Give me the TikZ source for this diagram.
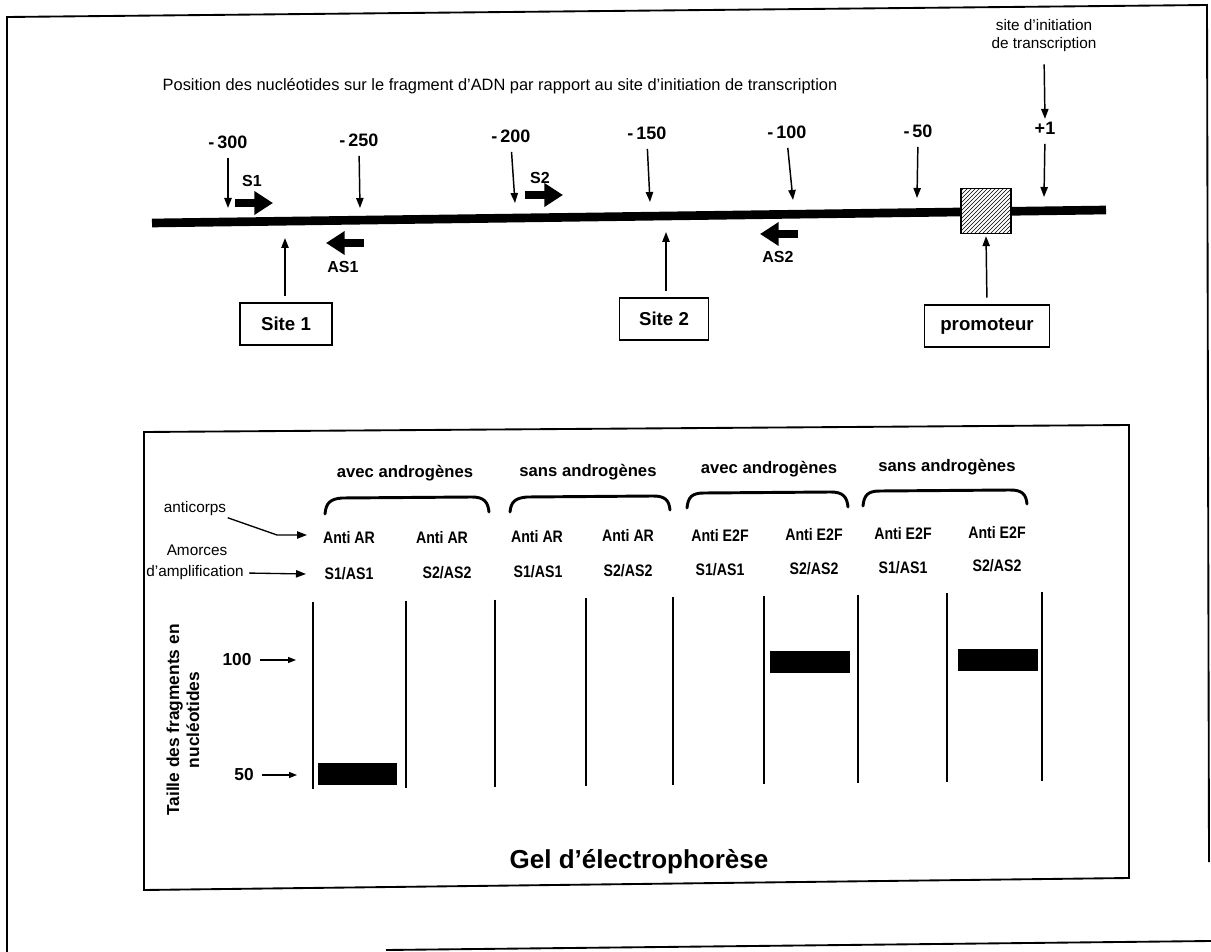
\documentclass[tikz,border=0pt]{standalone}
\usepackage{fontspec}
\setmainfont{Liberation Sans}
\newfontfamily\narrowfont{Liberation Sans}[FakeStretch=0.85]
\usetikzlibrary{arrows.meta,patterns}
\begin{document}
\begin{tikzpicture}[x=0.75pt,y=-0.75pt,
 frame/.style={line width=1.4pt},
 dna/.style={line width=6.5pt},
 thinarrow/.style={line width=1.1pt,-{Triangle[length=7.5pt,width=5.5pt]}},
 smallarrow/.style={line width=1pt,-{Triangle[length=6pt,width=4.5pt]}},
 primer/.style={line width=6pt,-{Triangle[length=14pt,width=17pt]}},
 num/.style={font=\fontsize{13.5}{15}\selectfont\bfseries,inner sep=1pt},
 plab/.style={font=\fontsize{12}{14}\selectfont\bfseries,inner sep=1pt},
 sitebox/.style={draw,line width=1pt,font=\fontsize{14}{16}\selectfont\bfseries,minimum height=31.5pt,inner sep=2pt},
 small/.style={font=\fontsize{11}{14}\selectfont,inner sep=1pt},
 grp/.style={font=\fontsize{12.5}{15}\selectfont\bfseries,inner sep=1pt},
 col/.style={font=\fontsize{12.5}{15}\selectfont\narrowfont\bfseries,inner sep=1pt},
 lane/.style={line width=1.4pt},
 band/.style={fill=black,draw=none,inner sep=0pt,minimum height=16.5pt},
 brace/.style={line width=2.2pt,line cap=round},
]
\useasboundingbox (0,0) rectangle (1211,952);

% outer frame
\draw[frame] (7,952) -- (7,17) -- (1207,5) -- (1209,862);
\draw[frame] (386,950) -- (1211,941);

% ---------- DNA map ----------
\node[small,font=\fontsize{12.3}{14}\selectfont] (pos) at (500,86) {Position des nucléotides sur le fragment d'ADN par rapport au site d'initiation de transcription};
\node[small,align=center,font=\fontsize{11.5}{13.5}\selectfont] (tss) at (1044,36) {site d'initiation\\de transcription};

\coordinate (dnaL) at (152,223);
\coordinate (dnaR) at (1106,210);
\draw[dna] (dnaL) -- (dnaR);
\node[draw,line width=1pt,minimum width=37.5pt,minimum height=33.75pt,preaction={fill=white},pattern=north east lines] (prom) at (986,211) {};

\node[num] (n300) at (228,142) {-\,300};
\node[num] (n250) at (359,140) {-\,250};
\node[num] (n200) at (511,136) {-\,200};
\node[num] (n150) at (647,133) {-\,150};
\node[num] (n100) at (787,132) {-\,100};
\node[num] (n50)  at (918,131) {-\,50};
\node[num] (n1)   at (1045,128) {+1};

\coordinate (p300) at (228,208);
\coordinate (p250) at (360,208);
\coordinate (p200) at (515,203);
\coordinate (p150) at (650,202);
\coordinate (p100) at (793,200);
\coordinate (p50)  at (917,198);
\coordinate (p1)   at (1044,197);
\draw[thinarrow,shorten <=6pt] (n300.south) -- (p300);
\draw[thinarrow,shorten <=6pt] (n250.south) -- (p250);
\draw[thinarrow,shorten <=6pt] (n200.south) -- (p200);
\draw[thinarrow,shorten <=6pt] (n150.south) -- (p150);
\draw[thinarrow,shorten <=6pt] (n100.south) -- (p100);
\draw[thinarrow,shorten <=6pt] (n50.south) -- (p50);
\draw[thinarrow,shorten <=6pt] (n1.south) -- (p1);
\draw[thinarrow,shorten <=8pt,shorten >=1pt] (tss.south) -- (n1.north);

% primers
\node[plab] (s1) at (252,181) {S1};
\node[plab] (s2) at (540,178) {S2};
\node[plab] (as1) at (343,267) {AS1};
\node[plab] (as2) at (778,257) {AS2};
\coordinate (s1a) at (235,203); \coordinate (s1b) at (273,203);
\coordinate (s2a) at (525,195); \coordinate (s2b) at (563,195);
\coordinate (as1a) at (364,243); \coordinate (as1b) at (326,243);
\coordinate (as2a) at (798,234); \coordinate (as2b) at (760,234);
\draw[primer] (s1a) -- (s1b);
\draw[primer] (s2a) -- (s2b);
\draw[primer] (as1a) -- (as1b);
\draw[primer] (as2a) -- (as2b);

% sites
\node[sitebox,minimum width=69pt] (site1) at (286,324) {Site 1};
\node[sitebox,minimum width=66.75pt] (site2) at (664,319) {Site 2};
\node[sitebox,minimum width=93.75pt] (promo) at (987,326) {promoteur};
\coordinate (c1) at (285,238);
\coordinate (c2) at (666,232);
\draw[thinarrow,shorten <=4.5pt] (site1.north -| c1) -- (c1);
\draw[thinarrow,shorten <=4.5pt] (site2.north -| c2) -- (c2);
\draw[thinarrow,shorten <=5pt,shorten >=1.5pt] (promo.north) -- (prom.south);

% ---------- Gel ----------
\draw[frame] (144,432) -- (1129,425) -- (1129,878) -- (144,890) -- cycle;

\node[grp] (g1) at (405,473) {avec androgènes};
\node[grp] (g2) at (588,472) {sans androgènes};
\node[grp] (g3) at (769,469) {avec androgènes};
\node[grp] (g4) at (947,467) {sans androgènes};
\draw[brace] (325,514) .. controls (326,503) and (330,499) .. (342,498) -- (472,497) .. controls (484,497) and (488,502) .. (489,512);
\draw[brace] (510,512) .. controls (511,502) and (515,498) .. (527,497) -- (653,496) .. controls (665,496) and (669,500) .. (670,510);
\draw[brace] (687,508) .. controls (688,497) and (692,493) .. (704,493) -- (831,492) .. controls (843,492) and (847,497) .. (848,507);
\draw[brace] (863,506) .. controls (864,495) and (868,491) .. (880,491) -- (1010,490) .. controls (1022,490) and (1026,494) .. (1027,504);

\node[col] (a1) at (349,538) {Anti AR};
\node[col] (a2) at (442,537.3) {Anti AR};
\node[col] (a3) at (537,536.5) {Anti AR};
\node[col] (a4) at (628,535.8) {Anti AR};
\node[col] (a5) at (720,535.1) {Anti E2F};
\node[col] (a6) at (814,534.4) {Anti E2F};
\node[col] (a7) at (903,533.7) {Anti E2F};
\node[col] (a8) at (997,533) {Anti E2F};
\node[col] (b1) at (349,574) {S1/AS1};
\node[col] (b2) at (447,572.8) {S2/AS2};
\node[col] (b3) at (538,571.7) {S1/AS1};
\node[col] (b4) at (628,570.6) {S2/AS2};
\node[col] (b5) at (720,569.4) {S1/AS1};
\node[col] (b6) at (814,568.3) {S2/AS2};
\node[col] (b7) at (903,567.2) {S1/AS1};
\node[col] (b8) at (997,566) {S2/AS2};

\node[small,font=\fontsize{11.5}{14}\selectfont] (anti) at (195,509) {anticorps};
\node[small,font=\fontsize{11.5}{14}\selectfont] (amo) at (197,550) {Amorces};
\node[small,font=\fontsize{11.5}{14}\selectfont] (ampl) at (195,573) {d'amplification};
\coordinate (ak) at (277,535);
\coordinate (akend) at (307,535);
\coordinate (amend) at (306,574);
\draw[thinarrow,line width=1pt] (anti.south east) -- (ak) -- (akend);
\draw[thinarrow,line width=1pt,shorten <=3pt] (ampl.east) -- (amend);

% lanes
\foreach \x in {313,406,495,586,673,764,858,947,1042}
  \draw[lane] (\x,{602-10*(\x-313)/729}) -- (\x,{789-8*(\x-313)/729});
\node[band,minimum width=59.25pt] (band1) at (357.5,774) {};
\node[band,minimum width=60pt] (band2) at (810,662) {};
\node[band,minimum width=60pt] (band3) at (998,660) {};

% size axis
\node[rotate=90,align=center,font=\fontsize{13}{15}\selectfont\bfseries] (taille) at (183,720) {Taille des fragments en\\nucléotides};
\node[num,font=\fontsize{13}{15}\selectfont\bfseries] (m100) at (237,660) {100};
\node[num,font=\fontsize{13}{15}\selectfont\bfseries] (m50) at (244,775) {50};
\coordinate (m100t) at (296,660);
\coordinate (m50t) at (297,775);
\draw[smallarrow,shorten <=5pt] (m100.east) -- (m100t);
\draw[smallarrow,shorten <=5pt] (m50.east) -- (m50t);

\node[font=\fontsize{19.5}{22}\selectfont\bfseries] (title) at (639,862) {Gel d’électrophorèse};
\end{tikzpicture}
\end{document}
